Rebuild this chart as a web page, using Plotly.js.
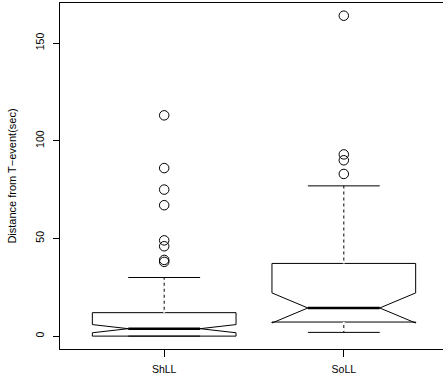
<!DOCTYPE html>
<html>
<head>
<meta charset="utf-8">
<script src="https://cdn.plot.ly/plotly-3.0.1.min.js"></script>
<style>
  html, body { margin: 0; padding: 0; overflow: hidden; background: #fff; }
  #chart { width: 448px; height: 381px; }
</style>
</head>
<body>
<div id="chart"></div>
<script>
// ---- data ----
const categories    = ['ShLL', 'SoLL'];
const q1Values      = [0, 7.2];
const medianValues  = [3.8, 14.4];
const q3Values      = [12, 37.2];
const lowerWhiskers = [0, 1.9];
const upperWhiskers = [30, 76.9];
const notchSpans    = [2.1, 7.7];
const outliersShLL  = [113, 86, 75, 67, 49, 46, 39, 38];
const outliersSoLL  = [164, 93, 90, 83];
const yTickValues   = [0, 50, 100, 150];
const yTitle        = 'Distance from T\u2212event(sec)';

const FONT = 'Liberation Sans, Arial, Helvetica, sans-serif';

const traces = [];

traces.push({
  type: 'box',
  x: categories,
  q1: q1Values,
  median: medianValues,
  q3: q3Values,
  lowerfence: lowerWhiskers,
  upperfence: upperWhiskers,
  notchspan: notchSpans,
  notched: true,
  notchwidth: 0.25,
  whiskerwidth: 0.5,
  width: 0.8,
  boxpoints: false,
  fillcolor: '#ffffff',
  line: { color: '#000000', width: 1 },
  hoverinfo: 'skip',
  showlegend: false
});

// thick median bar (R draws the median heavier), as a flat box at the median
traces.push({
  type: 'box',
  x: categories,
  q1: medianValues,
  median: medianValues,
  q3: medianValues,
  lowerfence: medianValues,
  upperfence: medianValues,
  width: 0.4,
  whiskerwidth: 0,
  boxpoints: false,
  fillcolor: 'rgba(0,0,0,0)',
  line: { color: '#000000', width: 2.5 },
  hoverinfo: 'skip',
  showlegend: false
});

// dashed look of the whiskers: white dashes laid over the solid whisker lines
categories.forEach((c, i) => {
  if (upperWhiskers[i] > q3Values[i]) {
    traces.push({
      type: 'scatter', mode: 'lines',
      x: [c, c], y: [q3Values[i], upperWhiskers[i]],
      line: { color: '#ffffff', width: 2, dash: '3px,3px' },
      hoverinfo: 'skip', showlegend: false
    });
  }
  if (lowerWhiskers[i] < q1Values[i]) {
    traces.push({
      type: 'scatter', mode: 'lines',
      x: [c, c], y: [q1Values[i], lowerWhiskers[i]],
      line: { color: '#ffffff', width: 2, dash: '3px,3px' },
      hoverinfo: 'skip', showlegend: false
    });
  }
});

// outliers
const outlierSets = [outliersShLL, outliersSoLL];
outlierSets.forEach((vals, i) => {
  traces.push({
    type: 'scatter', mode: 'markers',
    x: vals.map(() => categories[i]),
    y: vals,
    marker: { symbol: 'circle-open', size: 9.5, color: '#000000', line: { width: 1, color: '#000000' } },
    hoverinfo: 'skip', showlegend: false
  });
});

const layout = {
  width: 448,
  height: 381,
  margin: { l: 60, r: 0, t: 3, b: 32 },
  paper_bgcolor: '#ffffff',
  plot_bgcolor: '#ffffff',
  font: { family: FONT, size: 10.5, color: '#000000' },
  showlegend: false,
  boxmode: 'overlay',
  xaxis: {
    type: 'category',
    range: [-0.58, 1.58],
    showgrid: false, zeroline: false,
    showline: true, mirror: true, linecolor: '#000000', linewidth: 1,
    ticks: 'outside', ticklen: 7, tickcolor: '#000000', tickwidth: 1,
    tickfont: { family: FONT, size: 10.5, color: '#000000' },
    ticklabelstandoff: 3,
    fixedrange: true
  },
  yaxis: {
    range: [-6.6, 170.5],
    tickvals: yTickValues,
    ticktext: yTickValues.map(String),
    tickangle: -90,
    showgrid: false, zeroline: false,
    showline: true, mirror: true, linecolor: '#000000', linewidth: 1,
    ticks: 'outside', ticklen: 6, tickcolor: '#000000', tickwidth: 1,
    tickfont: { family: FONT, size: 10.5, color: '#000000' },
    ticklabelstandoff: 5,
    title: { text: yTitle, font: { family: FONT, size: 11, color: '#000000' }, standoff: 14 },
    automargin: false,
    fixedrange: true
  }
};

Plotly.newPlot('chart', traces, layout, { displayModeBar: false, staticPlot: true });
</script>
</body>
</html>
